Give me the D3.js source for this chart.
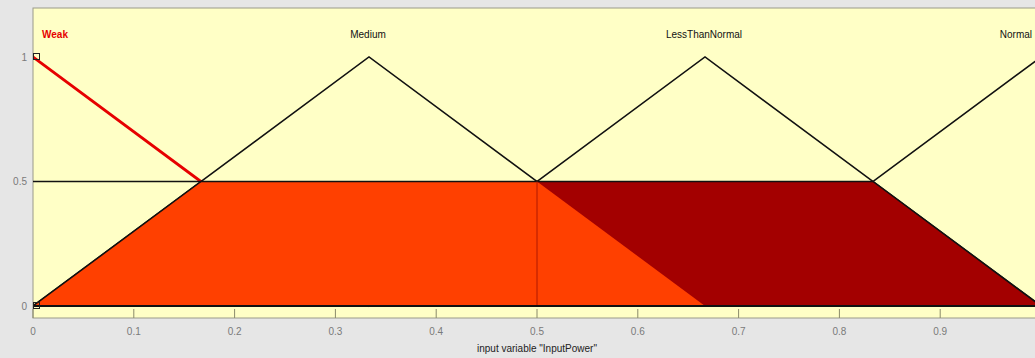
<!DOCTYPE html>
<html>
<head>
<meta charset="utf-8">
<script src="https://cdn.jsdelivr.net/npm/d3@7/dist/d3.min.js"></script>
<style>
  html, body { margin: 0; padding: 0; background: #e6e6e6; }
  svg { display: block; }
  text { font-family: "Liberation Sans", Arial, sans-serif; }
</style>
</head>
<body>
<svg id="chart" width="1035" height="358"></svg>
<script>
// Membership functions of input variable "InputPower" (triangular: a, b, c)
const mfNames  = ["Weak", "Medium", "LessThanNormal", "Normal"];
const mfParams = [[-1/3, 0, 1/3], [0, 1/3, 2/3], [1/3, 2/3, 1], [2/3, 1, 4/3]];
const selectedMf = "Weak";

// Clipped (fired) membership functions and their fill colours
const firedMfs    = ["LessThanNormal", "Medium"];
const firedLevels = [0.5, 0.5];
const firedColors = ["#a30000", "#ff4000"];

const xTicks = [0, 0.1, 0.2, 0.3, 0.4, 0.5, 0.6, 0.7, 0.8, 0.9];
const yTicks = [0, 0.5, 1];
const xLabel = 'input variable "InputPower"';

const svg = d3.select("#chart");
const plotLeft = 33, plotTop = 8, plotBottom = 318, plotRight = 1041;
const x = d3.scaleLinear().domain([0, 1]).range([33, 1041]);
const y = d3.scaleLinear().domain([0, 1]).range([306, 57]);

svg.append("defs").append("clipPath").attr("id", "plotClip")
  .append("rect").attr("x", plotLeft).attr("y", plotTop)
  .attr("width", plotRight - plotLeft).attr("height", plotBottom - plotTop);

// plot area
svg.append("rect").attr("x", plotLeft).attr("y", plotTop)
  .attr("width", plotRight - plotLeft).attr("height", plotBottom - plotTop)
  .attr("fill", "#ffffc6").attr("stroke", "#9a9a8a").attr("stroke-width", 1);

const plot = svg.append("g").attr("clip-path", "url(#plotClip)");

const tri = p => [[p[0], 0], [p[1], 1], [p[2], 0]];
const line = d3.line().x(d => x(d[0])).y(d => y(d[1]));

// membership curves
mfNames.forEach((name, i) => {
  const sel = name === selectedMf;
  plot.append("path").datum(tri(mfParams[i])).attr("d", line)
    .attr("fill", "none")
    .attr("stroke", sel ? "#e60000" : "#111")
    .attr("stroke-width", sel ? 3 : 1.5);
});

// clipped trapezoids
firedMfs.forEach((name, k) => {
  const p = mfParams[mfNames.indexOf(name)];
  const h = firedLevels[k];
  const pts = [[p[0], 0], [p[0] + h * (p[1] - p[0]), h], [p[2] - h * (p[2] - p[1]), h], [p[2], 0]];
  plot.append("path").attr("d", line(pts) + "Z")
    .attr("fill", firedColors[k]).attr("stroke", "none");
});

// outer edges of the aggregate
const lvl = d3.max(firedLevels);
const pM = mfParams[mfNames.indexOf("Medium")];
const pL = mfParams[mfNames.indexOf("LessThanNormal")];
plot.append("path").datum([[pM[0], 0], [pM[0] + lvl * (pM[1] - pM[0]), lvl]]).attr("d", line)
  .attr("stroke", "#111").attr("stroke-width", 1.5).attr("fill", "none");
plot.append("path").datum([[pL[2] - lvl * (pL[2] - pL[1]), lvl], [pL[2], 0]]).attr("d", line)
  .attr("stroke", "#111").attr("stroke-width", 1.5).attr("fill", "none");

// firing-level line
plot.append("path").datum([[0, lvl], [pL[2] - lvl * (pL[2] - pL[1]), lvl]]).attr("d", line)
  .attr("stroke", "#111").attr("stroke-width", 1.3).attr("fill", "none");

// dividing line between the two trapezoids
const xDiv = pM[1] + (1 - lvl) * (pM[2] - pM[1]);
plot.append("path").datum([[xDiv, 0], [xDiv, lvl]]).attr("d", line)
  .attr("stroke", "#b01800").attr("stroke-width", 1).attr("fill", "none");

// base line
plot.append("path").datum([[0, 0], [1, 0]]).attr("d", line)
  .attr("stroke", "#111").attr("stroke-width", 2).attr("fill", "none");

// endpoint markers on the selected curve
[[0, 1], [0, 0]].forEach(d => {
  svg.append("rect").attr("x", x(d[0]) + 0.5).attr("y", y(d[1]) - 3.5)
    .attr("width", 6).attr("height", 6)
    .attr("fill", "none").attr("stroke", "#222").attr("stroke-width", 1);
});

// MF labels
mfNames.forEach((name, i) => {
  const sel = name === selectedMf;
  let cx = x(mfParams[i][1]) - 1, anchor = "middle";
  if (i === 0) { cx = 42; anchor = "start"; }
  if (i === mfNames.length - 1) { cx = 1032; anchor = "end"; }
  svg.append("text").attr("x", cx).attr("y", 38)
    .attr("text-anchor", anchor)
    .attr("font-size", 10)
    .attr("font-weight", sel ? "bold" : "normal")
    .attr("fill", sel ? "#e60000" : "#111")
    .text(name);
});

// x ticks (inward) and labels
xTicks.forEach(t => {
  svg.append("line").attr("x1", x(t)).attr("x2", x(t))
    .attr("y1", plotBottom).attr("y2", plotBottom - 9)
    .attr("stroke", "#8a8a6a").attr("stroke-width", 1);
  svg.append("text").attr("x", x(t)).attr("y", 335)
    .attr("text-anchor", "middle").attr("font-size", 10).attr("fill", "#7a7a7a")
    .text(d3.format("~g")(t));
});

// y tick labels
yTicks.forEach(t => {
  svg.append("text").attr("x", 27).attr("y", y(t) + 3.5)
    .attr("text-anchor", "end").attr("font-size", 10).attr("fill", "#7a7a7a")
    .text(d3.format("~g")(t));
});

// axis title
svg.append("text").attr("x", 537).attr("y", 352)
  .attr("text-anchor", "middle").attr("font-size", 10).attr("fill", "#222")
  .text(xLabel);
</script>
</body>
</html>
